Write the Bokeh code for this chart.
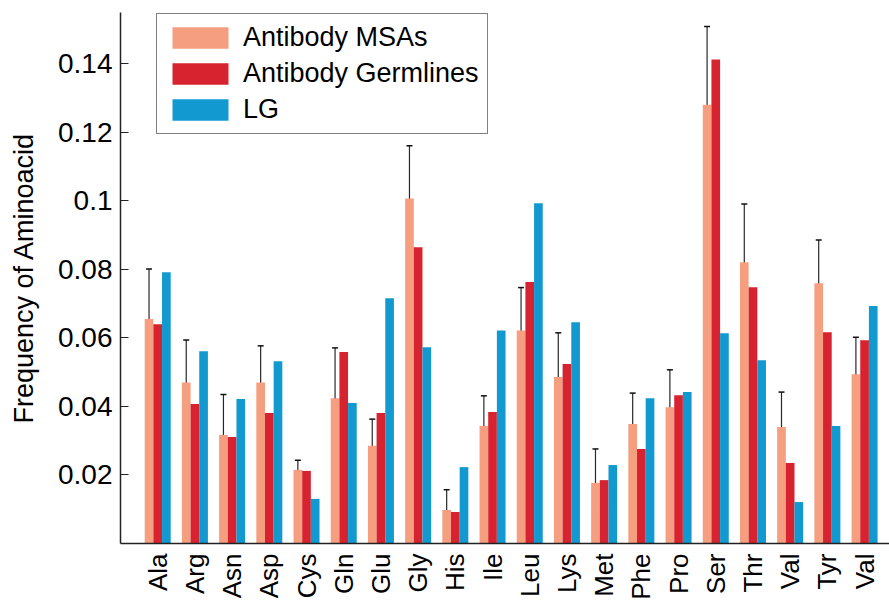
import numpy as np
from bokeh.plotting import figure
from bokeh.models import (ColumnDataSource, Range1d, FixedTicker, CustomJSTickFormatter,
                          Whisker, TeeHead, Legend)
from bokeh.embed import file_html
from bokeh.resources import INLINE

# ---- data ----
amino_acids = ["Ala", "Arg", "Asn", "Asp", "Cys", "Gln", "Glu", "Gly", "His", "Ile",
               "Leu", "Lys", "Met", "Phe", "Pro", "Ser", "Thr", "Val", "Tyr", "Val"]
antibody_msas = [0.0655, 0.0470, 0.0317, 0.0470, 0.0215, 0.0424, 0.0285, 0.1007, 0.0098, 0.0343,
                 0.0622, 0.0486, 0.0177, 0.0349, 0.0398, 0.1281, 0.0821, 0.0340, 0.0760, 0.0494]
antibody_germlines = [0.0640, 0.0407, 0.0311, 0.0381, 0.0212, 0.0559, 0.0381, 0.0865, 0.0092, 0.0384,
                      0.0763, 0.0524, 0.0185, 0.0276, 0.0433, 0.1413, 0.0748, 0.0235, 0.0617, 0.0593]
lg = [0.0792, 0.0561, 0.0422, 0.0532, 0.0130, 0.0410, 0.0716, 0.0573, 0.0223, 0.0622,
      0.0993, 0.0646, 0.0229, 0.0424, 0.0442, 0.0614, 0.0535, 0.0121, 0.0343, 0.0693]
msa_err_upper = [0.0801, 0.0594, 0.0435, 0.0577, 0.0243, 0.0571, 0.0363, 0.1161, 0.0157, 0.0431,
                 0.0747, 0.0615, 0.0276, 0.0439, 0.0507, 0.1509, 0.0991, 0.0442, 0.0886, 0.0602]
msa_err_lower = [0.0508, 0.0349, 0.0199, 0.0362, 0.0188, 0.0279, 0.0206, 0.0852, 0.0040, 0.0255,
                 0.0498, 0.0355, 0.0077, 0.0258, 0.0287, 0.1055, 0.0651, 0.0237, 0.0632, 0.0387]
y_ticks = [0.02, 0.04, 0.06, 0.08, 0.10, 0.12, 0.14]
series_names = ["Antibody MSAs", "Antibody Germlines", "LG"]
series_colors = ["#F59E80", "#D6232F", "#1299D0"]

FONT = "Liberation Sans"
BAR_W = 0.233

idx = np.arange(1, len(amino_acids) + 1)
src = ColumnDataSource(dict(
    x_msa=idx - BAR_W, x_germ=idx.astype(float), x_lg=idx + BAR_W,
    msa=antibody_msas, germ=antibody_germlines, lg=lg,
    up=msa_err_upper, lo=msa_err_lower,
))

p = figure(width=889, height=602, output_backend="svg", toolbar_location=None,
           x_range=Range1d(0, 20.67), y_range=Range1d(0, 0.155),
           min_border_left=120, min_border_right=0, min_border_top=12, min_border_bottom=57)
p.outline_line_color = None
p.xgrid.visible = False
p.ygrid.visible = False

r1 = p.vbar(x="x_msa", top="msa", width=BAR_W, source=src, fill_color=series_colors[0], line_color=None)
r2 = p.vbar(x="x_germ", top="germ", width=BAR_W, source=src, fill_color=series_colors[1], line_color=None)
r3 = p.vbar(x="x_lg", top="lg", width=BAR_W, source=src, fill_color=series_colors[2], line_color=None)

wh = Whisker(base="x_msa", upper="up", lower="lo", source=src,
             line_color="#111111", line_width=1.2, line_alpha=0.9,
             upper_head=TeeHead(size=6, line_color="#111111", line_width=1.5),
             lower_head=TeeHead(size=6, line_color="#111111", line_width=1.5))
p.add_layout(wh)

legend = Legend(items=[(series_names[0], [r1]), (series_names[1], [r2]), (series_names[2], [r3])],
                location=(36, 409))
legend.glyph_width = 70
legend.glyph_height = 27
legend.label_height = 27
legend.spacing = 5
legend.padding = 8
legend.label_standoff = 8
legend.label_text_font = FONT
legend.label_text_font_size = "27px"
legend.label_text_color = "black"
legend.border_line_color = "black"
legend.border_line_width = 1.5
legend.background_fill_alpha = 1.0
p.add_layout(legend)

# x axis
xa = p.xaxis[0]
xa.ticker = FixedTicker(ticks=list(idx))
xa.formatter = CustomJSTickFormatter(args=dict(names=amino_acids),
                                     code="return names[Math.round(tick) - 1];")
xa.major_label_orientation = np.pi / 2
xa.major_label_text_font = FONT
xa.major_label_text_font_size = "26px"
xa.major_label_text_color = "black"
xa.major_label_standoff = 10
xa.major_tick_in = 0
xa.major_tick_out = 0
xa.minor_tick_line_color = None
xa.axis_line_color = "#222222"
xa.axis_line_width = 1.5

# y axis
ya = p.yaxis[0]
ya.ticker = FixedTicker(ticks=y_ticks)
ya.formatter = CustomJSTickFormatter(code="return String(Math.round(tick * 100) / 100);")
ya.major_label_text_font = FONT
ya.major_label_text_font_size = "28px"
ya.major_label_text_color = "black"
ya.major_label_standoff = 8
ya.major_tick_in = 8
ya.major_tick_out = 0
ya.major_tick_line_color = "#222222"
ya.major_tick_line_width = 1.2
ya.minor_tick_line_color = None
ya.axis_line_color = "#222222"
ya.axis_line_width = 1.5
ya.axis_label = "Frequency of Aminoacid"
ya.axis_label_text_font = FONT
ya.axis_label_text_font_size = "27px"
ya.axis_label_text_font_style = "normal"
ya.axis_label_text_color = "black"
ya.axis_label_standoff = 16

open("out.html", "w").write(file_html(p, INLINE))
